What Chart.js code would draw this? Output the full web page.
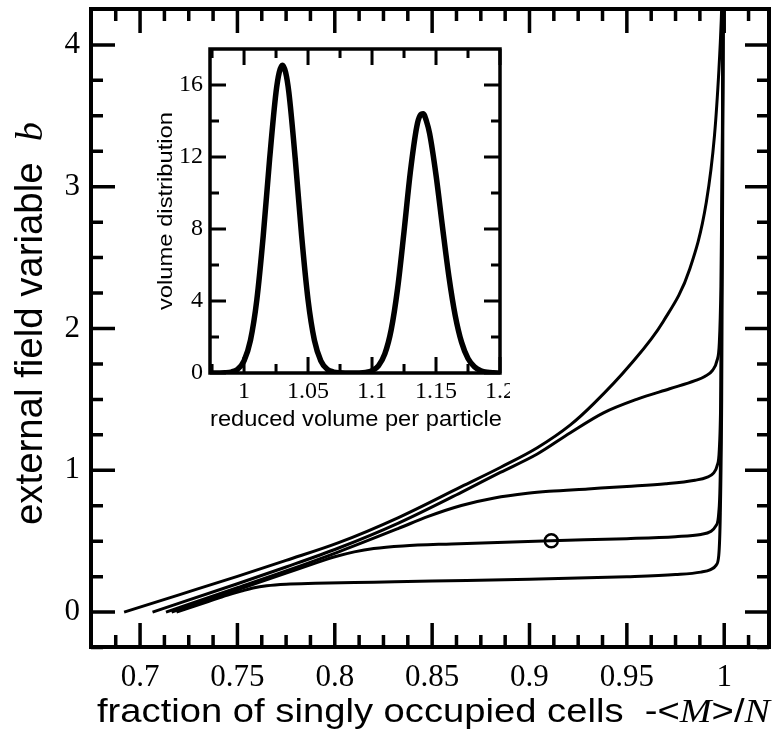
<!DOCTYPE html>
<html><head><meta charset="utf-8">
<script src="https://cdn.jsdelivr.net/npm/chart.js@4.4.0/dist/chart.umd.min.js"></script>
<style>
html,body{margin:0;padding:0;background:#fff;}
#wrap{position:relative;width:778px;height:736px;background:#fff;}
#main{position:absolute;left:0;top:0;}
#inset{position:absolute;left:140px;top:40px;}
</style></head><body>
<div id="wrap"><canvas id="main" width="778" height="736"></canvas><canvas id="inset" width="370" height="400"></canvas></div>
<script>
// ---------------- data ----------------
// main plot: b versus fraction of singly occupied cells
const curveTop = [[0.6918,0],[0.72,0.122],[0.75,0.252],[0.775,0.365],[0.802,0.49],[0.8327,0.667],[0.865,0.885],[0.885,1.02],[0.904,1.159],[0.921,1.32],[0.933,1.47],[0.9517,1.744],[0.9687,2.05],[0.9823,2.42],[0.9908,2.89],[0.995,3.36],[0.9973,3.83],[0.9985,4.18],[0.999,4.4]];
const curveB15 = [[0.7064,0],[0.75,0.2],[0.775,0.318],[0.802,0.452],[0.8327,0.628],[0.865,0.845],[0.885,0.985],[0.904,1.115],[0.921,1.265],[0.938,1.405],[0.955,1.5],[0.972,1.575],[0.985,1.632],[0.99,1.662],[0.994,1.705],[0.9962,1.77],[0.9975,1.9],[0.9983,2.3],[0.999,3.2],[0.9994,4.3]];
const curveB09 = [[0.7133,0],[0.75,0.172],[0.775,0.29],[0.802,0.425],[0.8327,0.59],[0.848,0.675],[0.865,0.752],[0.882,0.805],[0.899,0.838],[0.91,0.852],[0.93,0.869],[0.95,0.886],[0.97,0.905],[0.985,0.93],[0.991,0.95],[0.9945,0.98],[0.9963,1.03],[0.9975,1.15],[0.9983,1.6],[0.999,3.0],[0.9994,4.3]];
const curveB05 = [[0.7162,0],[0.75,0.158],[0.775,0.275],[0.79,0.345],[0.80,0.39],[0.81,0.425],[0.82,0.449],[0.835,0.467],[0.86,0.481],[0.911,0.504],[0.95,0.518],[0.975,0.532],[0.988,0.548],[0.993,0.568],[0.9958,0.61],[0.9972,0.7],[0.9982,1.2],[0.999,3.0],[0.9994,4.3]];
const curveB02 = [[0.7187,0],[0.735,0.075],[0.745,0.12],[0.752,0.148],[0.758,0.17],[0.765,0.186],[0.775,0.197],[0.79,0.203],[0.82,0.211],[0.85,0.219],[0.90,0.232],[0.95,0.25],[0.975,0.265],[0.988,0.282],[0.993,0.3],[0.9958,0.33],[0.9972,0.4],[0.998,0.7],[0.9987,1.5],[0.9992,3.0],[0.9995,4.3]];
const markerPoint = [[0.9112,0.5035]];
const xTickValues = [0.7,0.75,0.8,0.85,0.9,0.95,1];
const xTickLabels = ['0.7','0.75','0.8','0.85','0.9','0.95','1'];
const xMinorTicks = [0.6875,0.7125,0.725,0.7375,0.7625,0.775,0.7875,0.8125,0.825,0.8375,0.8625,0.875,0.8875,0.9125,0.925,0.9375,0.9625,0.975,0.9875,1.0125];
const yTickValues = [0,1,2,3,4];
const yTickLabels = ['0','1','2','3','4'];
const yMinorTicks = [-0.25,0.25,0.5,0.75,1.25,1.5,1.75,2.25,2.5,2.75,3.25,3.5,3.75];

// inset: volume distribution
const insetX = [0.973,0.975,0.98,0.985,0.99,0.995,1.0,1.005,1.01,1.015,1.02,1.025,1.0275,1.03,1.0325,1.035,1.04,1.045,1.05,1.055,1.06,1.065,1.07,1.075,1.08,1.085,1.09,1.095,1.1,1.105,1.11,1.115,1.12,1.125,1.13,1.135,1.1375,1.14,1.1425,1.145,1.15,1.155,1.16,1.165,1.17,1.175,1.18,1.185,1.19,1.195,1.2];
const insetY = [0,0,0.002,0.012,0.054,0.21,0.68,1.81,4.07,7.62,11.9,15.6,16.7,17.1,16.7,15.6,11.9,7.62,4.07,1.81,0.68,0.21,0.054,0.012,0.002,0,0.005,0.036,0.13,0.40,1.06,2.41,4.70,7.85,11.2,13.7,14.3,14.4,14.0,13.3,11.0,8.15,5.4,3.2,1.70,0.81,0.35,0.13,0.04,0.01,0.003];
const insetXTicks = [1,1.05,1.1,1.15,1.2];
const insetXLabels = ['1','1.05','1.1','1.15','1.2'];
const insetXMinor = [0.975,1.025,1.075,1.125,1.175];
const insetYTicks = [0,4,8,12,16];
const insetYLabels = ['0','4','8','12','16'];
const insetYMinor = [2,6,10,14];

// ---------------- helpers ----------------
const pts = a => a.map(([x,y]) => ({x, y}));
const SANS = '"Liberation Sans", Arial, sans-serif';
const SERIF = '"Liberation Serif", "Times New Roman", serif';

function drawFitted(ctx, segs, x, y, target, rotate) {
  ctx.save();
  let w = 0;
  segs.forEach(s => { ctx.font = s.font; w += ctx.measureText(s.text).width; });
  const k = target / w;
  ctx.translate(x, y);
  if (rotate) ctx.rotate(-Math.PI / 2);
  ctx.scale(k, 1);
  ctx.fillStyle = '#000';
  ctx.textBaseline = 'alphabetic';
  ctx.textAlign = 'left';
  let cx = 0;
  segs.forEach(s => { ctx.font = s.font; ctx.fillText(s.text, cx, 0); cx += ctx.measureText(s.text).width; });
  ctx.restore();
}

const frameTicks = {
  id: 'frameTicks',
  afterDatasetsDraw(chart, args, o) {
    const {ctx, chartArea: a, scales} = chart;
    const xs = scales.x, ys = scales.y;
    ctx.save();
    ctx.strokeStyle = '#000';
    ctx.lineCap = 'butt';
    ctx.lineWidth = o.tickWidth;
    const vt = (v, len) => {
      const p = xs.getPixelForValue(v);
      ctx.beginPath(); ctx.moveTo(p, a.bottom); ctx.lineTo(p, a.bottom - len);
      ctx.moveTo(p, a.top); ctx.lineTo(p, a.top + len); ctx.stroke();
    };
    const ht = (v, len) => {
      const p = ys.getPixelForValue(v);
      ctx.beginPath(); ctx.moveTo(a.left, p); ctx.lineTo(a.left + len, p);
      ctx.moveTo(a.right, p); ctx.lineTo(a.right - len, p); ctx.stroke();
    };
    o.xMajor.forEach(v => vt(v, o.majorLen));
    o.xMinor.forEach(v => vt(v, o.minorLen));
    o.yMajor.forEach(v => ht(v, o.majorLen));
    o.yMinor.forEach(v => ht(v, o.minorLen));
    ctx.lineWidth = o.frameWidth;
    ctx.strokeRect(a.left, a.top, a.right - a.left, a.bottom - a.top);
    ctx.restore();
  }
};

const titles = {
  id: 'titles',
  afterDraw(chart, args, o) {
    (o.items || []).forEach(it => drawFitted(chart.ctx, it.segs, it.x, it.y, it.width, it.rotate));
  }
};

const lineDs = (d) => ({
  data: pts(d), borderColor: '#000', borderWidth: 3, pointRadius: 0, fill: false,
  cubicInterpolationMode: 'monotone', showLine: true
});

const fitX = h => s => { s.height = h; s.paddingLeft = 0; s.paddingRight = 0; s.paddingTop = 0; s.paddingBottom = 0; };
const fitY = w => s => { s.width = w; s.paddingLeft = 0; s.paddingRight = 0; s.paddingTop = 0; s.paddingBottom = 0; };
const noGrid = { display: false, drawTicks: false };

// ---------------- main chart ----------------
new Chart(document.getElementById('main'), {
  type: 'scatter',
  data: {
    datasets: [
      lineDs(curveTop), lineDs(curveB15), lineDs(curveB09), lineDs(curveB05), lineDs(curveB02),
      { data: pts(markerPoint), showLine: false, pointRadius: 6.5, pointBackgroundColor: '#fff',
        pointBorderColor: '#000', pointBorderWidth: 2.5 }
    ]
  },
  options: {
    responsive: false, devicePixelRatio: 1, animation: false,
    layout: { padding: { top: 6, right: 5, left: 0, bottom: 0 } },
    plugins: {
      legend: { display: false }, tooltip: { enabled: false },
      frameTicks: { xMajor: xTickValues, xMinor: xMinorTicks, yMajor: yTickValues, yMinor: yMinorTicks,
        majorLen: 24, minorLen: 12, tickWidth: 3.5, frameWidth: 4 },
      titles: { items: [
        { segs: [ {text: 'fraction of singly occupied cells  -<', font: '34px ' + SANS},
                  {text: 'M', font: 'italic 34px ' + SERIF},
                  {text: '>/', font: '34px ' + SANS},
                  {text: 'N', font: 'italic 34px ' + SERIF} ],
          x: 97, y: 722, width: 673, rotate: false },
        { segs: [ {text: 'external field variable  ', font: '38px ' + SANS},
                  {text: 'b', font: 'italic 38px ' + SERIF} ],
          x: 42, y: 525, width: 403, rotate: true }
      ] }
    },
    scales: {
      x: { type: 'linear', min: 0.6748, max: 1.023, position: 'bottom',
        grid: noGrid, border: { display: false },
        afterBuildTicks: s => { s.ticks = xTickValues.map(v => ({ value: v })); },
        afterFit: fitX(89),
        ticks: { autoSkip: false, maxRotation: 0, padding: 12, color: '#000',
          font: { family: SERIF, size: 31 },
          callback: (v, i) => xTickLabels[i] } },
      y: { type: 'linear', min: -0.246, max: 4.253,
        grid: noGrid, border: { display: false },
        afterBuildTicks: s => { s.ticks = yTickValues.map(v => ({ value: v })); },
        afterFit: fitY(91),
        ticks: { autoSkip: false, padding: 11, color: '#000',
          font: { family: SERIF, size: 31 },
          callback: (v, i) => yTickLabels[i] } }
    }
  },
  plugins: [frameTicks, titles]
});

// ---------------- inset chart ----------------
new Chart(document.getElementById('inset'), {
  type: 'scatter',
  data: {
    datasets: [{
      data: insetX.map((x, i) => ({ x, y: insetY[i] })),
      borderColor: '#000', borderWidth: 5.5, pointRadius: 0, showLine: true,
      cubicInterpolationMode: 'monotone', borderCapStyle: 'round', borderJoinStyle: 'round'
    }]
  },
  options: {
    responsive: false, devicePixelRatio: 1, animation: false,
    layout: { padding: { top: 9, right: 10, left: 0, bottom: 0 } },
    plugins: {
      legend: { display: false }, tooltip: { enabled: false },
      frameTicks: { xMajor: insetXTicks, xMinor: insetXMinor, yMajor: insetYTicks, yMinor: insetYMinor,
        majorLen: 16, minorLen: 9, tickWidth: 3, frameWidth: 3.5 },
      titles: { items: [
        { segs: [ {text: 'reduced volume per particle', font: '22px ' + SANS} ],
          x: 70, y: 386, width: 292, rotate: false },
        { segs: [ {text: 'volume distribution', font: '21px ' + SANS} ],
          x: 32, y: 270, width: 198, rotate: true }
      ] }
    },
    scales: {
      x: { type: 'linear', min: 0.9734, max: 1.2,
        grid: noGrid, border: { display: false },
        afterBuildTicks: s => { s.ticks = insetXTicks.map(v => ({ value: v })); },
        afterFit: fitX(67),
        ticks: { autoSkip: false, maxRotation: 0, padding: 4, color: '#000',
          font: { family: SERIF, size: 24 },
          callback: (v, i) => insetXLabels[i] } },
      y: { type: 'linear', min: 0, max: 18,
        grid: noGrid, border: { display: false },
        afterBuildTicks: s => { s.ticks = insetYTicks.map(v => ({ value: v })); },
        afterFit: fitY(70),
        ticks: { autoSkip: false, padding: 7, color: '#000',
          font: { family: SERIF, size: 24 },
          callback: (v, i) => insetYLabels[i] } }
    }
  },
  plugins: [frameTicks, titles]
});
</script>
</body></html>
